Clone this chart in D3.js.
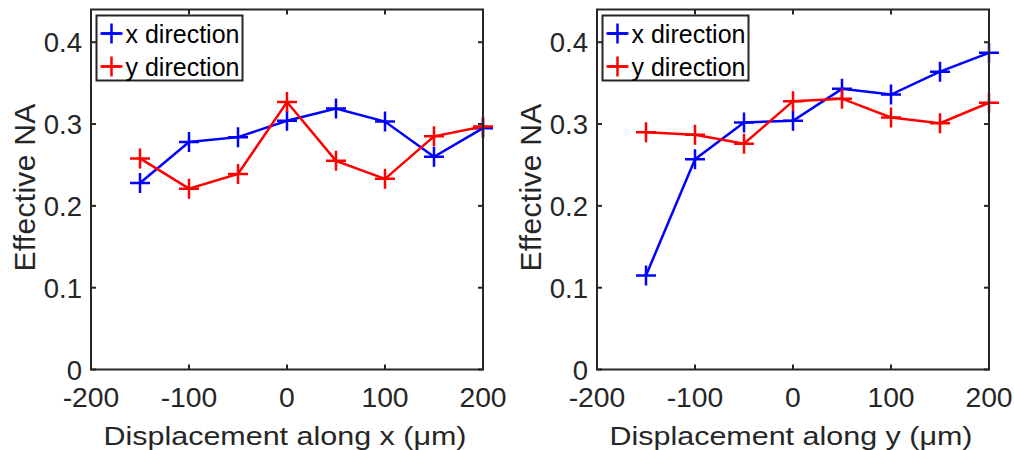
<!DOCTYPE html>
<html>
<head>
<meta charset="utf-8">
<title>Effective NA</title>
<script src="https://d3js.org/d3.v7.min.js"></script>
<style>
  body { margin: 0; background: #fff; }
  svg { display: block; font-family: "Liberation Sans", Arial, sans-serif; }
  .frame { fill: none; stroke: #262626; stroke-width: 2; }
  .tick line { stroke: #262626; stroke-width: 2; }
  .ticklabel { fill: #262626; font-size: 27.5px; }
  .xlabel { fill: #262626; font-size: 26.5px; }
  .ylabel { fill: #262626; font-size: 30px; letter-spacing: 0.3px; }
  .series { fill: none; stroke-width: 2.5; }
  .marker { fill: none; stroke-width: 2.5; }
  .legend rect { fill: #fff; stroke: #262626; stroke-width: 2; }
  .legend text { fill: #000; font-size: 25px; }
</style>
</head>
<body>
<svg id="chart" width="1014" height="450"></svg>
<script>
// displacement positions (um)
var displacement = [-150, -100, -50, 0, 50, 100, 150, 200];

// left panel: displacement along x
var leftXdir = [0.228, 0.278, 0.284, 0.304, 0.319, 0.303, 0.260, 0.295];
var leftYdir = [0.258, 0.221, 0.239, 0.327, 0.255, 0.233, 0.285, 0.297];

// right panel: displacement along y
var rightXdir = [0.115, 0.257, 0.302, 0.304, 0.343, 0.336, 0.364, 0.387];
var rightYdir = [0.290, 0.287, 0.276, 0.328, 0.331, 0.308, 0.301, 0.326];

var xTicks = [-200, -100, 0, 100, 200];
var yTicks = [0, 0.1, 0.2, 0.3, 0.4];
var seriesNames = ['x direction', 'y direction'];
var seriesColors = ['#0000ff', '#ff0000'];

var svg = d3.select('#chart');
var plotW = 392, plotH = 360, plotTop = 9.5;

function plus(s) {
    return 'M' + (-s) + ',0H' + s + 'M0,' + (-s) + 'V' + s;
}

function drawPanel(left, xLabel, series) {
    var x = d3.scaleLinear().domain([-200, 200]).range([0, plotW]);
    var y = d3.scaleLinear().domain([0, 0.44]).range([plotH, 0]);

    var g = svg.append('g').attr('transform', 'translate(' + left + ',' + plotTop + ')');

    // inward ticks on all four sides
    var tickG = g.append('g').attr('class', 'tick');
    xTicks.forEach(function (t) {
        tickG.append('line').attr('x1', x(t)).attr('x2', x(t)).attr('y1', plotH).attr('y2', plotH - 5);
        tickG.append('line').attr('x1', x(t)).attr('x2', x(t)).attr('y1', 0).attr('y2', 5);
    });
    yTicks.forEach(function (t) {
        tickG.append('line').attr('x1', 0).attr('x2', 5).attr('y1', y(t)).attr('y2', y(t));
        tickG.append('line').attr('x1', plotW).attr('x2', plotW - 5).attr('y1', y(t)).attr('y2', y(t));
    });

    g.selectAll('.xl').data(xTicks).enter().append('text')
        .attr('class', 'ticklabel')
        .attr('transform', function (d) { return 'translate(' + x(d) + ',' + (plotH + 37) + ') scale(1.03,1)'; })
        .attr('text-anchor', 'middle')
        .text(function (d) { return d; });

    g.selectAll('.yl').data(yTicks).enter().append('text')
        .attr('class', 'ticklabel')
        .attr('transform', function (d) { return 'translate(-9,' + (y(d) + 10) + ')'; })
        .attr('text-anchor', 'end')
        .text(function (d) { return d === 0 ? '0' : d.toFixed(1); });

    g.append('text')
        .attr('class', 'xlabel')
        .attr('transform', 'translate(' + (plotW / 2 - 2) + ',' + (plotH + 75) + ') scale(1.15,1)')
        .attr('text-anchor', 'middle')
        .text(xLabel);

    g.append('text')
        .attr('class', 'ylabel')
        .attr('transform', 'translate(-56,' + (plotH / 2 - 2) + ') rotate(-90)')
        .attr('text-anchor', 'middle')
        .text('Effective NA');

    var line = d3.line()
        .x(function (d, i) { return x(displacement[i]); })
        .y(function (d) { return y(d); });

    series.forEach(function (vals, k) {
        g.append('path')
            .datum(vals)
            .attr('class', 'series')
            .attr('stroke', seriesColors[k])
            .attr('d', line);
        g.selectAll('.m' + k).data(vals).enter().append('path')
            .attr('class', 'marker')
            .attr('stroke', seriesColors[k])
            .attr('transform', function (d, i) { return 'translate(' + x(displacement[i]) + ',' + y(d) + ')'; })
            .attr('d', plus(10));
    });

    g.append('rect').attr('class', 'frame')
        .attr('x', 0).attr('y', 0).attr('width', plotW).attr('height', plotH);

    // legend
    var lg = g.append('g').attr('class', 'legend').attr('transform', 'translate(5.5,6)');
    lg.append('rect').attr('width', 146).attr('height', 65);
    seriesNames.forEach(function (name, k) {
        var cy = 18 + k * 33;
        lg.append('line').attr('x1', 4).attr('x2', 26).attr('y1', cy).attr('y2', cy)
            .attr('stroke', seriesColors[k]).attr('stroke-width', 2.5);
        lg.append('path').attr('class', 'marker').attr('stroke', seriesColors[k])
            .attr('transform', 'translate(15,' + cy + ')').attr('d', plus(10));
        lg.append('text').attr('x', 29).attr('y', cy + 9).text(name);
    });
}

drawPanel(91, 'Displacement along x (\u03bcm)', [leftXdir, leftYdir]);
drawPanel(597, 'Displacement along y (\u03bcm)', [rightXdir, rightYdir]);
</script>
</body>
</html>
